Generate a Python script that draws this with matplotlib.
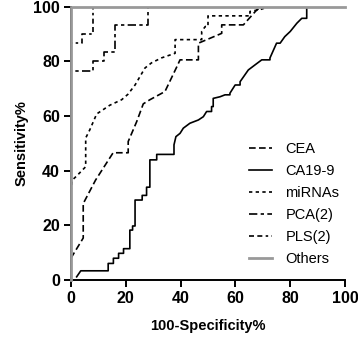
import matplotlib
matplotlib.use("Agg")
import matplotlib.pyplot as plt

# ROC curves (x = 100-Specificity%, y = Sensitivity%)
cea_x = [0, 4.5, 4.5, 9, 15.4, 20.9, 20.9, 24, 26.4, 28.8, 34.3, 38.6, 39.8, 46.5, 46.5, 55, 55, 62.9, 67.8, 70]
cea_y = [8, 15.4, 28, 36.6, 46.6, 46.6, 50.7, 58, 64.5, 66, 69, 78, 80.6, 80.6, 86.7, 90.3, 93.4, 93.4, 98.9, 100]

ca199_x = [2.1, 3.6, 13.6, 13.6, 15.5, 15.5, 17.4, 17.4, 19.2, 19.2, 21.5, 21.5, 22.5, 22.5, 23.4, 23.4, 26, 26, 27.6, 27.6, 28.8,
           28.8, 31.3, 31.3, 37.6, 37.6, 38.3, 39.8, 41, 43.4, 46.5, 48.3, 49.5, 51.3, 51.3, 51.9, 51.9, 54.4, 56.2, 58,
           58, 59.9, 61.7, 61.7, 64.7, 67.2, 69.6, 72.6, 72.6, 75, 76.3, 78, 80, 82.4, 84.2, 86, 86]
ca199_y = [1.2, 3.4, 3.4, 6.1, 6.1, 8, 8, 9.8, 9.8, 11.5, 11.5, 18.3, 18.3, 19.8, 19.8, 29.3, 29.3, 31, 31, 34, 34,
           44, 44, 46, 46, 49.5, 52.5, 53.7, 55.6, 57.4, 58.6, 59.8, 61.7, 61.7, 63.5, 63.5, 66.5, 67.1, 67.8, 67.8,
           68.4, 71.4, 71.4, 72.6, 76.9, 78.8, 80.6, 80.6, 81.3, 86.7, 86.7, 89.1, 91, 94, 95.8, 95.8, 100]

mirna_x = [0, 0.5, 2, 5.4, 5.4, 6.9, 9.4, 14.2, 18.5, 20.8, 23.4, 27, 29.4, 33, 38, 38, 47.7, 47.7, 49, 50, 50, 65.3, 65.3, 69, 72]
mirna_y = [32.4, 36.6, 38, 41.5, 52, 55, 60.8, 64, 66, 68, 71.4, 77.6, 79.5, 81.3, 83, 88, 88, 91, 92.8, 92.8, 96.7, 96.7, 98.3, 99, 100]

pca_x = [0, 0, 8, 8, 12, 12, 16, 16, 28, 28]
pca_y = [0, 76.7, 76.7, 80, 80, 83.3, 83.3, 93.3, 93.3, 100]

pls_x = [0, 0, 4, 4, 8, 8]
pls_y = [0, 86.7, 86.7, 90, 90, 100]

others_x = [0, 0, 100]
others_y = [0, 100, 100]

x_ticks = [0, 20, 40, 60, 80, 100]
y_ticks = [0, 20, 40, 60, 80, 100]

plt.rcParams["font.family"] = ["Liberation Sans", "DejaVu Sans"]

fig = plt.figure(figsize=(3.58, 3.42), dpi=100)
ax = fig.add_axes([0.198, 0.181, 0.766, 0.799])

lw = 1.2
ax.plot(cea_x, cea_y, color="black", lw=lw, linestyle=(0, (4, 2)), label="CEA")
ax.plot(ca199_x, ca199_y, color="black", lw=lw, linestyle="-", label="CA19-9")
ax.plot(mirna_x, mirna_y, color="black", lw=lw, linestyle=(0, (2, 2)), label="miRNAs")
ax.plot(pca_x, pca_y, color="black", lw=lw, linestyle=(0, (5, 2, 2, 2)), label="PCA(2)")
ax.plot(pls_x, pls_y, color="black", lw=lw, linestyle=(0, (3, 2, 3, 2, 1.5, 2)), label="PLS(2)")
# grey reference line sits on top of the left spine, as in the original
ax.plot(others_x, others_y, color="#999999", lw=2, linestyle="-", label="Others",
        solid_joinstyle="miter", clip_on=False, zorder=3)

ax.set_xlim(0, 100)
ax.set_ylim(0, 100)
ax.set_xticks(x_ticks)
ax.set_yticks(y_ticks)
for side in ["top", "right"]:
    ax.spines[side].set_visible(False)
for side in ["left", "bottom"]:
    ax.spines[side].set_linewidth(1.4)
ax.tick_params(direction="out", length=5, width=1.4, labelsize=11.5, pad=3)
for label in ax.get_xticklabels() + ax.get_yticklabels():
    label.set_fontweight("bold")

ax.set_xlabel("100-Specificity%", fontsize=10.5, fontweight="bold", labelpad=9)
ax.set_ylabel("Sensitivity%", fontsize=10.5, fontweight="bold", labelpad=3)

ax.legend(loc="lower right", bbox_to_anchor=(1.0, 0.03), frameon=False, fontsize=10.5,
          handlelength=1.6, handletextpad=0.9, labelspacing=0.55, borderaxespad=0)

fig.savefig("out.png", dpi=100)
